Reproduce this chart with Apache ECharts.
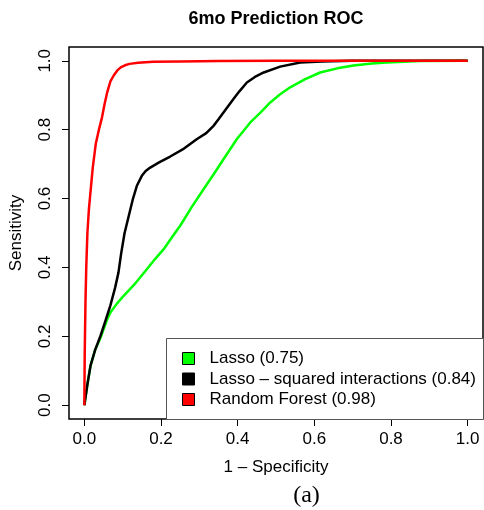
<!DOCTYPE html>
<html>
<head>
<meta charset="utf-8">
<script src="https://cdn.jsdelivr.net/npm/echarts@6/dist/echarts.min.js"></script>
<style>html,body{margin:0;padding:0;background:#fff}#c{width:484px;height:510px}</style>
</head>
<body>
<div id="c"></div>
<script>
const seriesNames = ['Lasso (0.75)', 'Lasso \u2013 squared interactions (0.84)', 'Random Forest (0.98)'];
const seriesColors = ['#00ff00', '#000000', '#ff0000'];
const tickValues = [0, 0.2, 0.4, 0.6, 0.8, 1.0];

const lassoFpr = [0,0.008,0.016,0.028,0.042,0.05,0.06,0.068,0.085,0.102,0.13,0.163,0.185,0.207,0.23,0.25,0.28,0.311,0.337,0.363,0.398,0.433,0.46,0.485,0.51,0.537,0.575,0.615,0.66,0.702,0.75,0.789,0.876,1];
const lassoTpr = [0,0.06,0.114,0.16,0.195,0.22,0.25,0.269,0.295,0.317,0.35,0.395,0.425,0.453,0.49,0.521,0.575,0.627,0.67,0.714,0.773,0.821,0.85,0.879,0.902,0.923,0.946,0.966,0.978,0.986,0.992,0.995,0.999,1];

const lassoSqFpr = [0,0.008,0.016,0.028,0.042,0.055,0.068,0.08,0.089,0.096,0.105,0.116,0.127,0.137,0.15,0.16,0.172,0.195,0.224,0.26,0.294,0.318,0.337,0.35,0.363,0.389,0.405,0.424,0.445,0.468,0.511,0.563,0.62,0.7,1];
const lassoSqTpr = [0,0.06,0.114,0.16,0.201,0.245,0.29,0.34,0.385,0.44,0.5,0.55,0.6,0.637,0.666,0.68,0.69,0.705,0.722,0.745,0.773,0.79,0.811,0.83,0.85,0.889,0.912,0.937,0.953,0.966,0.983,0.995,0.998,1,1];

const rfFpr = [0,0.001,0.003,0.005,0.008,0.012,0.017,0.022,0.03,0.038,0.046,0.053,0.06,0.068,0.077,0.086,0.095,0.106,0.118,0.14,0.18,0.25,0.35,0.5,1];
const rfTpr = [0,0.15,0.3,0.4,0.5,0.57,0.63,0.69,0.76,0.8,0.835,0.875,0.91,0.94,0.958,0.972,0.981,0.987,0.991,0.994,0.997,0.998,0.999,1,1];

const xs = [lassoFpr, lassoSqFpr, rfFpr];
const ys = [lassoTpr, lassoSqTpr, rfTpr];

const FONT = 'Liberation Sans, Arial, Helvetica, sans-serif';
const chart = echarts.init(document.getElementById('c'), null, {renderer: 'canvas'});

const series = seriesNames.map((n, i) => ({
  name: n,
  type: 'line',
  data: xs[i].map((x, j) => [x, ys[i][j]]),
  showSymbol: false,
  symbol: 'none',
  lineStyle: {color: seriesColors[i], width: 2.5},
  itemStyle: {color: seriesColors[i], borderColor: '#000', borderWidth: 1},
  z: 2 + i,
  silent: true
}));

const fmt = v => Number(v).toFixed(1);

chart.setOption({
  animation: false,
  backgroundColor: '#fff',
  title: {
    text: '6mo Prediction ROC',
    left: 276, top: 10, padding: 0, textAlign: 'center',
    textStyle: {fontFamily: FONT, fontSize: 18, fontWeight: 'bold', color: '#000'}
  },
  grid: {left: 69, right: 1, top: 47, bottom: 91, show: true, borderColor: '#000', borderWidth: 1.5, backgroundColor: 'transparent', containLabel: false},
  xAxis: {
    type: 'value', min: -0.04, max: 1.04,
    name: '1 \u2013 Specificity', nameLocation: 'middle', nameGap: 40,
    nameTextStyle: {fontFamily: FONT, fontSize: 17, color: '#000'},
    axisLine: {show: false, onZero: false},
    axisTick: {show: true, inside: false, customValues: tickValues, length: 7, lineStyle: {color: '#000', width: 1}},
    axisLabel: {customValues: tickValues, formatter: fmt, fontFamily: FONT, fontSize: 17, color: '#000', margin: 12},
    splitLine: {show: false}
  },
  yAxis: {
    type: 'value', min: -0.04, max: 1.04,
    name: 'Sensitivity', nameLocation: 'middle', nameGap: 44, nameRotate: 90,
    nameTextStyle: {fontFamily: FONT, fontSize: 17, color: '#000'},
    axisLine: {show: false, onZero: false},
    axisTick: {show: true, inside: false, customValues: tickValues, length: 7, lineStyle: {color: '#000', width: 1}},
    axisLabel: {customValues: tickValues, formatter: fmt, rotate: 90, fontFamily: FONT, fontSize: 17, color: '#000', margin: 15},
    splitLine: {show: false}
  },
  legend: {
    data: seriesNames,
    orient: 'vertical',
    left: 182, top: 350,
    padding: 0,
    itemWidth: 12, itemHeight: 12, itemGap: 3.5,
    icon: 'rect',
    itemStyle: {borderColor: '#000', borderWidth: 1},
    textStyle: {fontFamily: FONT, fontSize: 17, color: '#000', padding: [0, 0, 0, 10]},
    selectedMode: false,
    z: 10
  },
  graphic: [
    {type: 'rect', z: 5, shape: {x: 166.5, y: 338.5, width: 317, height: 81}, style: {fill: '#fff', stroke: '#555', lineWidth: 1}},
    {type: 'text', x: 306.5, y: 496, style: {text: '(a)', font: '24px Liberation Serif, Times New Roman, serif', fill: '#000', textAlign: 'center', textVerticalAlign: 'middle'}}
  ],
  series: series
});
</script>
</body>
</html>
